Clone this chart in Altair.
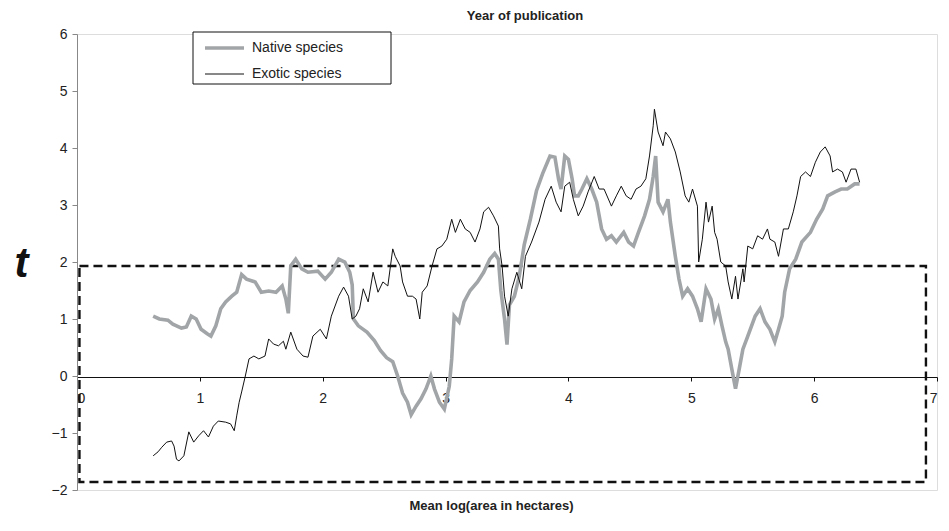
import altair as alt
import pandas as pd

# ---- data ----
native_x = [0.62, 0.67, 0.74, 0.78, 0.85, 0.89, 0.93, 0.97, 1.01, 1.06, 1.09, 1.13, 1.17, 1.21, 1.26,
            1.30, 1.34, 1.38, 1.45, 1.50, 1.56, 1.62, 1.67, 1.70, 1.72, 1.74, 1.78, 1.83, 1.88, 1.96,
            2.02, 2.07, 2.13, 2.18, 2.22, 2.24, 2.25, 2.29, 2.36, 2.42, 2.47, 2.52, 2.57, 2.61, 2.65,
            2.69, 2.72, 2.76, 2.80, 2.84, 2.88, 2.91, 2.95, 2.99, 3.03, 3.05, 3.07, 3.11, 3.15, 3.20,
            3.26, 3.31, 3.36, 3.40, 3.43, 3.45, 3.48, 3.50, 3.52, 3.56, 3.60, 3.64, 3.69, 3.74, 3.79,
            3.85, 3.89, 3.92, 3.94, 3.97, 4.00, 4.03, 4.05, 4.08, 4.11, 4.15, 4.19, 4.23, 4.27, 4.31,
            4.35, 4.39, 4.45, 4.49, 4.53, 4.57, 4.62, 4.66, 4.69, 4.71, 4.73, 4.77, 4.81, 4.83, 4.87,
            4.90, 4.93, 4.97, 5.01, 5.05, 5.08, 5.12, 5.16, 5.19, 5.22, 5.25, 5.28, 5.30, 5.33, 5.36,
            5.39, 5.42, 5.46, 5.52, 5.56, 5.60, 5.64, 5.68, 5.71, 5.74, 5.76, 5.80, 5.85, 5.90, 5.97,
            6.02, 6.07, 6.11, 6.17, 6.22, 6.27, 6.33, 6.37]
native_t = [1.05, 1.00, 0.98, 0.91, 0.84, 0.86, 1.05, 1.00, 0.82, 0.74, 0.70, 0.88, 1.18, 1.30, 1.40,
            1.47, 1.78, 1.70, 1.65, 1.47, 1.49, 1.47, 1.58, 1.35, 1.10, 1.93, 2.05, 1.88, 1.82, 1.84,
            1.70, 1.82, 2.05, 2.00, 1.82, 1.60, 1.00, 0.88, 0.77, 0.62, 0.45, 0.32, 0.25, 0.00, -0.30,
            -0.46, -0.68, -0.53, -0.40, -0.23, 0.00, -0.23, -0.46, -0.58, -0.18, 0.30, 1.05, 0.95, 1.30, 1.50,
            1.65, 1.82, 2.05, 2.15, 2.05, 1.50, 1.00, 0.55, 1.25, 1.40, 1.75, 2.30, 2.75, 3.25, 3.55,
            3.86, 3.84, 3.45, 3.28, 3.86, 3.80, 3.46, 3.16, 3.16, 3.28, 3.46, 3.28, 3.05, 2.58, 2.40,
            2.46, 2.35, 2.52, 2.35, 2.28, 2.52, 2.81, 3.10, 3.50, 3.86, 3.05, 2.88, 3.10, 2.70, 2.10,
            1.70, 1.40, 1.53, 1.40, 1.18, 0.95, 1.53, 1.35, 1.00, 1.18, 0.88, 0.60, 0.47, 0.12, -0.22,
            0.12, 0.47, 0.70, 1.05, 1.18, 0.95, 0.82, 0.60, 0.82, 1.05, 1.47, 1.88, 2.05, 2.35, 2.52,
            2.75, 2.93, 3.16, 3.23, 3.28, 3.28, 3.37, 3.37]

exotic_x = [0.62, 0.66, 0.69, 0.73, 0.77, 0.79, 0.81, 0.83, 0.87, 0.91, 0.95, 0.99, 1.03, 1.07, 1.11,
            1.15, 1.21, 1.25, 1.28, 1.30, 1.32, 1.34, 1.37, 1.40, 1.44, 1.48, 1.53, 1.56, 1.60, 1.64,
            1.68, 1.70, 1.74, 1.79, 1.84, 1.88, 1.92, 1.98, 2.03, 2.07, 2.13, 2.17, 2.21, 2.24, 2.27,
            2.30, 2.33, 2.37, 2.41, 2.45, 2.49, 2.53, 2.57, 2.59, 2.63, 2.65, 2.69, 2.73, 2.76, 2.79,
            2.81, 2.85, 2.89, 2.93, 2.97, 3.01, 3.05, 3.08, 3.12, 3.16, 3.20, 3.24, 3.28, 3.31, 3.35,
            3.39, 3.43, 3.44, 3.46, 3.48, 3.51, 3.54, 3.58, 3.62, 3.65, 3.70, 3.76, 3.81, 3.86, 3.90,
            3.94, 3.97, 4.01, 4.04, 4.08, 4.12, 4.16, 4.21, 4.25, 4.29, 4.35, 4.39, 4.43, 4.47, 4.51,
            4.55, 4.59, 4.63, 4.66, 4.69, 4.70, 4.73, 4.77, 4.79, 4.83, 4.87, 4.91, 4.95, 4.98, 5.01,
            5.05, 5.06, 5.09, 5.12, 5.14, 5.17, 5.19, 5.21, 5.24, 5.28, 5.30, 5.33, 5.36, 5.38, 5.42,
            5.43, 5.46, 5.50, 5.54, 5.58, 5.62, 5.64, 5.68, 5.71, 5.75, 5.79, 5.83, 5.86, 5.89, 5.93,
            5.97, 6.01, 6.05, 6.09, 6.13, 6.15, 6.19, 6.23, 6.26, 6.30, 6.34, 6.37]
exotic_t = [-1.40, -1.33, -1.25, -1.16, -1.14, -1.23, -1.46, -1.49, -1.40, -0.98, -1.16, -1.05, -0.96, -1.07, -0.88,
            -0.79, -0.81, -0.84, -0.96, -0.70, -0.46, -0.28, 0.00, 0.30, 0.35, 0.30, 0.35, 0.65, 0.56, 0.53,
            0.61, 0.47, 0.77, 0.47, 0.35, 0.33, 0.70, 0.82, 0.65, 1.05, 1.40, 1.56, 1.40, 1.00, 1.05,
            1.18, 1.53, 1.30, 1.82, 1.47, 1.65, 1.58, 2.23, 2.10, 1.93, 1.65, 1.40, 1.40, 1.35, 1.00,
            1.47, 1.58, 1.93, 2.23, 2.28, 2.40, 2.75, 2.52, 2.75, 2.58, 2.52, 2.35, 2.58, 2.88, 2.96,
            2.81, 2.63, 2.23, 1.93, 1.40, 1.05, 1.53, 1.82, 1.53, 2.10, 2.35, 2.70, 3.10, 3.33, 3.05,
            2.88, 3.33, 3.40, 3.10, 2.81, 2.98, 3.23, 3.50, 3.28, 3.28, 2.98, 3.16, 3.33, 3.16, 3.10,
            3.28, 3.33, 3.46, 3.86, 4.39, 4.68, 4.28, 4.04, 4.28, 4.16, 3.93, 3.58, 3.16, 3.05, 3.28,
            2.98, 2.00, 2.40, 3.05, 2.70, 2.98, 2.52, 2.40, 2.00, 1.93, 1.65, 1.35, 1.75, 1.35, 1.88,
            1.65, 2.28, 2.23, 2.46, 2.40, 2.58, 2.40, 2.35, 2.10, 2.58, 2.58, 2.88, 3.16, 3.50, 3.58,
            3.50, 3.75, 3.93, 4.02, 3.86, 3.58, 3.63, 3.58, 3.40, 3.63, 3.63, 3.40]

series_names = ["Native species", "Exotic species"]
series_colors = ["#a2a5a7", "#111111"]
series_widths = [3.6, 1.0]

x_ticks = [0, 1, 2, 3, 4, 5, 6, 7]
y_ticks = [-2, -1, 0, 1, 2, 3, 4, 5, 6]

box_x = [0.02, 6.91]
box_t = [-1.86, 1.93]

# ---- tables ----
df = pd.concat([
    pd.DataFrame({"x": native_x, "t": native_t, "series": series_names[0]}),
    pd.DataFrame({"x": exotic_x, "t": exotic_t, "series": series_names[1]}),
], ignore_index=True)
df["i"] = range(len(df))
box_df = pd.DataFrame({"x0": [box_x[0]], "x1": [box_x[1]], "y0": [box_t[0]], "y1": [box_t[1]]})

FONT = "Liberation Sans"
W, H = 860, 456

x_scale = alt.Scale(domain=[0, 7], nice=False, zero=False)
y_scale = alt.Scale(domain=[-2, 6], nice=False, zero=False)

x_axis = alt.Axis(values=x_ticks, orient="bottom", offset=-113, domainColor="#111", tickColor="#111",
                  tickSize=4, labelFontSize=14, labelFont=FONT, labelColor="#222", labelPadding=10,
                  grid=False, title="Mean log(area in hectares)", titleFont=FONT, titleFontSize=13,
                  titleFontWeight="bold", titleColor="#222", titleX=414, titleY=128,
                  titleAlign="center", titleBaseline="middle")
y_axis = alt.Axis(values=y_ticks, orient="left", domainColor="#888", tickColor="#888", tickSize=5,
                  labelFontSize=14, labelFont=FONT, labelColor="#222", labelPadding=5, grid=False,
                  title="t", titleAngle=0, titleFont=FONT, titleFontSize=42, titleFontWeight="bold",
                  titleFontStyle="italic", titleColor="#111", titleX=-56, titleY=229,
                  titleAlign="center", titleBaseline="middle")

color = alt.Color("series:N", scale=alt.Scale(domain=series_names, range=series_colors), title=None,
                  legend=alt.Legend(orient="none", legendX=126, legendY=4, symbolType="stroke",
                                    symbolSize=1521, clipHeight=20, rowPadding=6, labelFontSize=14,
                                    labelFont=FONT, labelColor="#222", labelOffset=6, padding=0))
swidth = alt.StrokeWidth("series:N", scale=alt.Scale(domain=series_names, range=series_widths), title=None)

box = alt.Chart(box_df).mark_rect(fillOpacity=0, stroke="#111", strokeWidth=2.4, strokeDash=[9, 5]).encode(
    x=alt.X("x0:Q", scale=x_scale, axis=x_axis), x2="x1:Q",
    y=alt.Y("y0:Q", scale=y_scale, axis=y_axis), y2="y1:Q")

legend_box = alt.Chart(box_df).mark_rect(fill="white", stroke="#111", strokeWidth=1).encode(
    x=alt.value(116), x2=alt.value(314), y=alt.value(-2), y2=alt.value(50))

native = alt.Chart(df).transform_filter(alt.datum.series == series_names[0]).mark_line().encode(
    x=alt.X("x:Q", scale=x_scale, axis=x_axis), y=alt.Y("t:Q", scale=y_scale, axis=y_axis),
    color=color, strokeWidth=swidth, order="i:Q")
exotic = alt.Chart(df).transform_filter(alt.datum.series == series_names[1]).mark_line().encode(
    x=alt.X("x:Q", scale=x_scale, axis=x_axis), y=alt.Y("t:Q", scale=y_scale, axis=y_axis),
    color=color, strokeWidth=swidth, order="i:Q")

chart = alt.layer(box, native, exotic, legend_box).properties(
    width=W, height=H,
    autosize=alt.AutoSizeParams(type="none"),
    padding={"left": 69, "top": 26, "right": 4, "bottom": 30},
    title=alt.TitleParams("Year of publication", anchor="middle", dx=18, offset=4, font=FONT,
                          fontSize=13, fontWeight="bold", color="#222"),
).configure_view(stroke=None).configure(background="white")

chart.save("out.html", embed_options={"renderer": "svg", "actions": False})
